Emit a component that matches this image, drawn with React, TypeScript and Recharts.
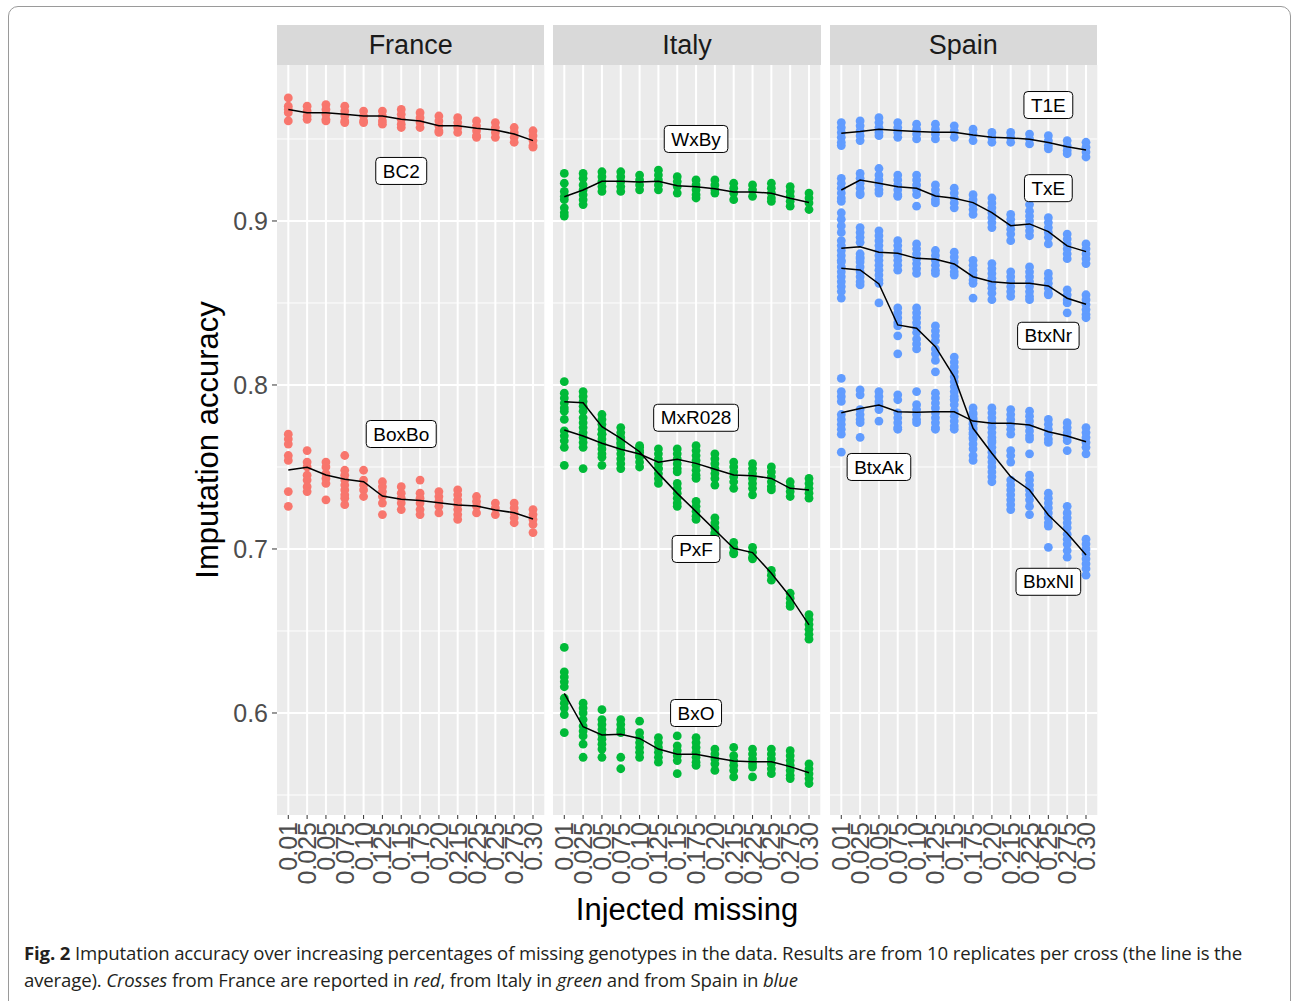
import React from 'react';
import { ComposedChart, Scatter, XAxis, YAxis, ReferenceLine, ReferenceArea } from 'recharts';

// x categories: proportion of injected missing genotypes
const missingLabels = ['0.01', '0.025', '0.05', '0.075', '0.10', '0.125', '0.15', '0.175', '0.20', '0.215', '0.225', '0.25', '0.275', '0.30'];
const yTicks = [0.6, 0.7, 0.8, 0.9];
const yMinor = [0.55, 0.65, 0.75, 0.85, 0.95];
const yDomain: [number, number] = [0.5378, 0.9951];
const xDomain: [number, number] = [-0.6, 13.6];

// ---- France ----
const bc2Reps = [
  [0.975, 0.970, 0.968, 0.966, 0.961],
  [0.970, 0.967, 0.964, 0.962],
  [0.971, 0.968, 0.965, 0.962, 0.961],
  [0.970, 0.967, 0.964, 0.961, 0.960],
  [0.967, 0.964, 0.961, 0.960],
  [0.967, 0.964, 0.961, 0.959],
  [0.968, 0.965, 0.962, 0.959, 0.957],
  [0.966, 0.963, 0.960, 0.957],
  [0.964, 0.961, 0.958, 0.955, 0.954],
  [0.963, 0.960, 0.957, 0.954],
  [0.961, 0.958, 0.955, 0.952, 0.951],
  [0.960, 0.957, 0.954, 0.951],
  [0.957, 0.954, 0.951, 0.948],
  [0.955, 0.952, 0.949, 0.946, 0.945],
];
const bc2Mean = [0.968, 0.966, 0.966, 0.965, 0.964, 0.964, 0.962, 0.961, 0.958, 0.958, 0.9565, 0.9555, 0.953, 0.949];

const boxBoReps = [
  [0.770, 0.767, 0.764, 0.757, 0.754, 0.735, 0.726],
  [0.760, 0.753, 0.750, 0.745, 0.742, 0.738, 0.735],
  [0.753, 0.750, 0.746, 0.743, 0.740, 0.730],
  [0.757, 0.748, 0.745, 0.742, 0.739, 0.736, 0.733, 0.731, 0.727],
  [0.748, 0.742, 0.739, 0.736, 0.732],
  [0.741, 0.738, 0.735, 0.732, 0.728, 0.721],
  [0.738, 0.734, 0.731, 0.728, 0.724],
  [0.742, 0.734, 0.731, 0.728, 0.724, 0.721],
  [0.735, 0.732, 0.729, 0.726, 0.722],
  [0.736, 0.733, 0.730, 0.727, 0.724, 0.721, 0.718],
  [0.732, 0.729, 0.726, 0.722],
  [0.728, 0.725, 0.721],
  [0.728, 0.725, 0.722, 0.719, 0.716],
  [0.724, 0.721, 0.718, 0.715, 0.710],
];
const boxBoMean = [0.7482, 0.7498, 0.7451, 0.7425, 0.741, 0.7323, 0.7303, 0.7295, 0.7282, 0.7268, 0.7262, 0.7238, 0.7221, 0.7183];

// ---- Italy ----
const wxByReps = [
  [0.929, 0.923, 0.918, 0.915, 0.913, 0.908, 0.905, 0.903],
  [0.929, 0.926, 0.922, 0.919, 0.916, 0.913, 0.910],
  [0.930, 0.927, 0.924, 0.921, 0.918],
  [0.930, 0.927, 0.924, 0.921, 0.918],
  [0.928, 0.925, 0.922, 0.919],
  [0.931, 0.928, 0.925, 0.922, 0.919],
  [0.927, 0.924, 0.921, 0.917],
  [0.925, 0.922, 0.919, 0.916, 0.914],
  [0.925, 0.922, 0.919, 0.917],
  [0.923, 0.920, 0.917, 0.913],
  [0.922, 0.919, 0.915],
  [0.923, 0.920, 0.917, 0.914, 0.912],
  [0.921, 0.918, 0.915, 0.912, 0.909],
  [0.917, 0.914, 0.911, 0.907],
];
const wxByMean = [0.9148, 0.9189, 0.9242, 0.9242, 0.9238, 0.9242, 0.9215, 0.9209, 0.9197, 0.9177, 0.9177, 0.9169, 0.9138, 0.9112];

const mxR028Reps = [
  [0.779, 0.772, 0.769, 0.766, 0.762, 0.751],
  [0.784, 0.780, 0.777, 0.774, 0.771, 0.768, 0.765, 0.762, 0.749],
  [0.770, 0.767, 0.764, 0.761, 0.758, 0.756, 0.751],
  [0.767, 0.764, 0.761, 0.758, 0.755, 0.752, 0.749],
  [0.762, 0.759, 0.756, 0.753, 0.750],
  [0.761, 0.758, 0.755, 0.752, 0.749],
  [0.761, 0.758, 0.755, 0.752, 0.749, 0.747],
  [0.763, 0.760, 0.757, 0.754, 0.751, 0.748, 0.745, 0.743],
  [0.758, 0.755, 0.752, 0.749, 0.746, 0.743, 0.739],
  [0.753, 0.750, 0.747, 0.744, 0.741, 0.737],
  [0.752, 0.749, 0.746, 0.743, 0.740, 0.737, 0.733],
  [0.750, 0.747, 0.744, 0.741, 0.738, 0.736],
  [0.741, 0.738, 0.735, 0.732],
  [0.743, 0.740, 0.737, 0.734, 0.731],
];
const mxR028Mean = [0.7726, 0.7689, 0.7645, 0.7608, 0.7579, 0.7529, 0.7547, 0.7522, 0.7486, 0.7451, 0.7447, 0.743, 0.737, 0.736];

const pxFReps = [
  [0.802, 0.795, 0.792, 0.789, 0.786, 0.784],
  [0.796, 0.793, 0.790, 0.787],
  [0.782, 0.779, 0.776, 0.773, 0.770],
  [0.774, 0.771, 0.768, 0.765, 0.762],
  [0.763, 0.760, 0.757],
  [0.749, 0.746, 0.743, 0.740],
  [0.740, 0.737, 0.734, 0.731, 0.728, 0.726],
  [0.729, 0.726, 0.723, 0.720, 0.718],
  [0.719, 0.716, 0.713, 0.710, 0.709],
  [0.704, 0.701, 0.698, 0.697],
  [0.701, 0.698, 0.695, 0.694],
  [0.687, 0.684, 0.681],
  [0.673, 0.670, 0.667, 0.665],
  [0.660, 0.657, 0.654, 0.651, 0.648, 0.645],
];
const pxFMean = [0.7898, 0.7892, 0.7746, 0.7675, 0.7593, 0.7461, 0.7339, 0.7228, 0.7116, 0.7004, 0.6978, 0.6852, 0.6709, 0.6537];

const bxOReps = [
  [0.640, 0.625, 0.622, 0.619, 0.616, 0.609, 0.606, 0.603, 0.599, 0.588],
  [0.606, 0.603, 0.600, 0.596, 0.592, 0.589, 0.586, 0.581, 0.573],
  [0.602, 0.596, 0.593, 0.590, 0.587, 0.584, 0.581, 0.578, 0.573],
  [0.596, 0.593, 0.590, 0.588, 0.573, 0.566],
  [0.595, 0.588, 0.585, 0.582, 0.579, 0.576, 0.573],
  [0.585, 0.582, 0.579, 0.576, 0.573, 0.570],
  [0.586, 0.580, 0.577, 0.574, 0.571, 0.563],
  [0.585, 0.582, 0.579, 0.576, 0.573, 0.570, 0.568],
  [0.578, 0.575, 0.572, 0.569, 0.565],
  [0.579, 0.574, 0.571, 0.568, 0.565, 0.561],
  [0.578, 0.575, 0.572, 0.569, 0.567, 0.561],
  [0.578, 0.575, 0.572, 0.569, 0.566, 0.563],
  [0.577, 0.574, 0.571, 0.568, 0.565, 0.562, 0.560],
  [0.569, 0.566, 0.563, 0.560, 0.557],
];
const bxOMean = [0.612, 0.5916, 0.5866, 0.587, 0.5845, 0.578, 0.5748, 0.5748, 0.5727, 0.5707, 0.5703, 0.5703, 0.5673, 0.5636];

// ---- Spain ----
const t1EReps = [
  [0.960, 0.957, 0.954, 0.951, 0.948, 0.946],
  [0.961, 0.958, 0.955, 0.952, 0.949],
  [0.963, 0.960, 0.957, 0.954, 0.952],
  [0.960, 0.957, 0.954, 0.951],
  [0.959, 0.956, 0.953, 0.950],
  [0.959, 0.956, 0.953, 0.950],
  [0.958, 0.955, 0.951],
  [0.956, 0.953, 0.949],
  [0.954, 0.951, 0.948],
  [0.954, 0.951, 0.948],
  [0.953, 0.950, 0.947],
  [0.952, 0.949, 0.946, 0.944],
  [0.949, 0.946, 0.943, 0.941],
  [0.948, 0.945, 0.942, 0.939],
];
const t1EMean = [0.9535, 0.9545, 0.9559, 0.9551, 0.9545, 0.9541, 0.9541, 0.9524, 0.951, 0.9506, 0.9498, 0.9478, 0.9453, 0.9433];

const txEReps = [
  [0.926, 0.923, 0.920, 0.917, 0.914, 0.912, 0.905, 0.901, 0.897, 0.893],
  [0.929, 0.926, 0.923, 0.920, 0.917, 0.916],
  [0.932, 0.928, 0.925, 0.922, 0.919, 0.917],
  [0.928, 0.925, 0.922, 0.919, 0.916, 0.915],
  [0.928, 0.925, 0.922, 0.919, 0.916, 0.909],
  [0.922, 0.919, 0.916, 0.913, 0.911],
  [0.920, 0.917, 0.914, 0.911, 0.908],
  [0.916, 0.913, 0.910, 0.907, 0.904],
  [0.914, 0.911, 0.908, 0.905, 0.902, 0.899, 0.896],
  [0.904, 0.901, 0.898, 0.895, 0.892, 0.888],
  [0.910, 0.906, 0.903, 0.900, 0.897, 0.894, 0.891],
  [0.902, 0.899, 0.896, 0.893, 0.890, 0.886],
  [0.892, 0.889, 0.886, 0.883, 0.880, 0.877],
  [0.886, 0.883, 0.880, 0.877, 0.874],
];
const txEMean = [0.9189, 0.925, 0.923, 0.9209, 0.9199, 0.9152, 0.9138, 0.9112, 0.9051, 0.8971, 0.8982, 0.8935, 0.8848, 0.8813];

const btxNrReps = [
  [0.888, 0.885, 0.882, 0.879, 0.876],
  [0.896, 0.893, 0.890, 0.887, 0.880, 0.877],
  [0.894, 0.891, 0.888, 0.885, 0.882, 0.879, 0.876, 0.873],
  [0.888, 0.885, 0.882, 0.879, 0.876, 0.873, 0.870],
  [0.886, 0.883, 0.880, 0.877, 0.874, 0.871, 0.868],
  [0.882, 0.879, 0.876, 0.873, 0.870, 0.868],
  [0.881, 0.878, 0.875, 0.872, 0.869, 0.867],
  [0.876, 0.873, 0.870, 0.867, 0.864, 0.862, 0.853],
  [0.874, 0.871, 0.868, 0.865, 0.862, 0.859, 0.856, 0.852],
  [0.869, 0.866, 0.863, 0.860, 0.857, 0.854],
  [0.872, 0.869, 0.866, 0.863, 0.860, 0.857, 0.854, 0.852],
  [0.868, 0.865, 0.862, 0.859, 0.856, 0.855],
  [0.858, 0.855, 0.852, 0.850, 0.844],
  [0.855, 0.852, 0.849, 0.846, 0.843, 0.841],
];
const btxNrMean = [0.8833, 0.8843, 0.8809, 0.8803, 0.8772, 0.8766, 0.8738, 0.866, 0.863, 0.862, 0.862, 0.8604, 0.8529, 0.8492];

const bbxNlReps = [
  [0.875, 0.872, 0.869, 0.866, 0.863, 0.860, 0.857, 0.853],
  [0.878, 0.875, 0.872, 0.869, 0.866, 0.863, 0.861],
  [0.870, 0.867, 0.864, 0.862, 0.850],
  [0.847, 0.844, 0.841, 0.838, 0.836, 0.830, 0.819],
  [0.847, 0.844, 0.841, 0.838, 0.835, 0.832, 0.828, 0.825, 0.822],
  [0.836, 0.833, 0.830, 0.827, 0.822, 0.819, 0.815, 0.808],
  [0.817, 0.814, 0.811, 0.808, 0.805, 0.802, 0.799, 0.796, 0.793, 0.791],
  [0.782, 0.779, 0.776, 0.773, 0.770, 0.767, 0.764, 0.761, 0.757, 0.754],
  [0.765, 0.762, 0.759, 0.756, 0.753, 0.750, 0.747, 0.744, 0.741],
  [0.760, 0.757, 0.753, 0.742, 0.739, 0.736, 0.733, 0.730, 0.727, 0.724],
  [0.758, 0.745, 0.742, 0.739, 0.736, 0.733, 0.730, 0.726, 0.721],
  [0.734, 0.731, 0.728, 0.725, 0.722, 0.719, 0.716, 0.714, 0.701],
  [0.726, 0.722, 0.719, 0.716, 0.713, 0.709, 0.706, 0.703, 0.699, 0.695],
  [0.706, 0.703, 0.700, 0.697, 0.694, 0.691, 0.688, 0.684],
];
const bbxNlMean = [0.8712, 0.8701, 0.8616, 0.8366, 0.8346, 0.8234, 0.805, 0.7736, 0.7584, 0.7441, 0.736, 0.7207, 0.7096, 0.6963];

const btxAkReps = [
  [0.804, 0.796, 0.793, 0.790, 0.782, 0.779, 0.776, 0.773, 0.770, 0.759],
  [0.797, 0.794, 0.785, 0.782, 0.779, 0.777, 0.768],
  [0.796, 0.793, 0.790, 0.788, 0.785, 0.778],
  [0.794, 0.791, 0.783, 0.780, 0.777, 0.774, 0.773],
  [0.796, 0.788, 0.785, 0.782, 0.779, 0.777],
  [0.795, 0.792, 0.789, 0.786, 0.783, 0.780, 0.777, 0.774, 0.773],
  [0.791, 0.788, 0.784, 0.781, 0.778, 0.775, 0.773],
  [0.786, 0.783, 0.780, 0.777, 0.774, 0.771, 0.768],
  [0.786, 0.783, 0.780, 0.777, 0.774, 0.771, 0.768, 0.766],
  [0.785, 0.782, 0.779, 0.776, 0.773, 0.770],
  [0.784, 0.781, 0.778, 0.775, 0.772, 0.769, 0.767],
  [0.779, 0.776, 0.773, 0.770, 0.767, 0.765],
  [0.777, 0.774, 0.771, 0.768, 0.766, 0.760],
  [0.774, 0.771, 0.768, 0.765, 0.762, 0.758],
];
const btxAkMean = [0.7831, 0.7857, 0.7878, 0.7837, 0.7833, 0.7837, 0.7837, 0.778, 0.7766, 0.7766, 0.7756, 0.7715, 0.7689, 0.7654];

// cross name tags, placed in data units (category index, accuracy)
const franceTags = [
  { text: 'BC2', x: 6, y: 0.9305 },
  { text: 'BoxBo', x: 6, y: 0.7701 },
];
const italyTags = [
  { text: 'WxBy', x: 7, y: 0.95 },
  { text: 'MxR028', x: 7, y: 0.78 },
  { text: 'PxF', x: 7, y: 0.7 },
  { text: 'BxO', x: 7, y: 0.6 },
];
const spainTags = [
  { text: 'T1E', x: 11, y: 0.9707 },
  { text: 'TxE', x: 11, y: 0.92 },
  { text: 'BtxNr', x: 11, y: 0.83 },
  { text: 'BtxAk', x: 2, y: 0.75 },
  { text: 'BbxNl', x: 11, y: 0.68 },
];

const SANS = '"Liberation Sans", Arial, Helvetica, sans-serif';
const PANEL_W = 267.3;
const PANEL_H = 750;
const X_AXIS_H = 90;
const Y_AXIS_W = 60;
const SIDE_PAD = 14; // room for the outer rotated tick labels

type Cross = { reps: number[][]; mean: number[] };
type Tag = { text: string; x: number; y: number };

let measureCtx: CanvasRenderingContext2D | null = null;
function textWidth(s: string, font: string) {
  if (!measureCtx) measureCtx = document.createElement('canvas').getContext('2d');
  if (!measureCtx) return s.length * 11;
  measureCtx.font = font;
  return measureCtx.measureText(s).width;
}

const TagBox = (props: any) => {
  const { cx, cy, payload } = props;
  const w = textWidth(payload.text, `19px ${SANS}`) + 14;
  const h = 27;
  return (
    <g>
      <rect x={cx - w / 2} y={cy - h / 2} width={w} height={h} rx={4} ry={4} fill="#fff" stroke="#000" strokeWidth={1} />
      <text x={cx} y={cy} dy="0.35em" textAnchor="middle" fontSize={19} fontFamily={SANS} fill="#000">
        {payload.text}
      </text>
    </g>
  );
};

const MissingTick = (props: any) => {
  const { x, y, payload } = props;
  return (
    <text
      transform={`translate(${x},${y}) rotate(-90)`}
      textAnchor="end"
      dy="0.36em"
      fontSize={25}
      fontFamily={SANS}
      fill="#4D4D4D"
    >
      {missingLabels[payload.value]}
    </text>
  );
};

function Facet({ title, color, crosses, tags, left, showY }: {
  title: string; color: string; crosses: Cross[]; tags: Tag[]; left: number; showY?: boolean;
}) {
  const yW = showY ? Y_AXIS_W : 0;
  const padL = showY ? 0 : SIDE_PAD;
  const points = crosses.flatMap((c) => c.reps.flatMap((vals, i) => vals.map((v) => ({ x: i, y: v }))));
  const cats = missingLabels.map((_, i) => i);

  return (
    <div style={{ position: 'absolute', left: left - yW - padL, top: 25 }}>
      <div
        style={{
          marginLeft: yW + padL, width: PANEL_W, height: 40, lineHeight: '41px', background: '#D9D9D9',
          textAlign: 'center', fontFamily: SANS, fontSize: 27, color: '#1A1A1A',
        }}
      >
        {title}
      </div>
      <ComposedChart
        width={yW + padL + PANEL_W + SIDE_PAD}
        height={PANEL_H + X_AXIS_H}
        margin={{ top: 0, right: SIDE_PAD, bottom: 0, left: padL }}
      >
        <XAxis
          type="number"
          dataKey="x"
          domain={xDomain}
          allowDataOverflow
          ticks={cats}
          interval={0}
          height={X_AXIS_H}
          axisLine={false}
          tickSize={4}
          tickMargin={3}
          tickLine={{ stroke: '#333333', strokeWidth: 1 }}
          tick={<MissingTick />}
        />
        <YAxis
          type="number"
          dataKey="y"
          domain={yDomain}
          allowDataOverflow
          ticks={yTicks}
          hide={!showY}
          width={Y_AXIS_W}
          axisLine={false}
          tickSize={5}
          tickMargin={4}
          tickLine={{ stroke: '#333333', strokeWidth: 1 }}
          tick={{ fontSize: 25, fill: '#4D4D4D', fontFamily: SANS }}
          tickFormatter={(v: number) => v.toFixed(1)}
        />
        <ReferenceArea x1={xDomain[0]} x2={xDomain[1]} y1={yDomain[0]} y2={yDomain[1]} fill="#EBEBEB" fillOpacity={1} stroke="none" />
        {yMinor.map((v) => (
          <ReferenceLine key={`m${v}`} y={v} stroke="#FFFFFF" strokeWidth={1} />
        ))}
        {yTicks.map((v) => (
          <ReferenceLine key={`t${v}`} y={v} stroke="#FFFFFF" strokeWidth={2} />
        ))}
        {cats.map((i) => (
          <ReferenceLine key={`x${i}`} x={i} stroke="#FFFFFF" strokeWidth={2} />
        ))}
        <Scatter
          data={points}
          isAnimationActive={false}
          shape={(p: any) => <circle cx={p.cx} cy={p.cy} r={4.4} fill={color} />}
        />
        {crosses.map((c, k) => (
          <Scatter
            key={`mean${k}`}
            data={c.mean.map((v, i) => ({ x: i, y: v }))}
            isAnimationActive={false}
            line={{ stroke: '#000000', strokeWidth: 1.5 }}
            shape={() => <g />}
          />
        ))}
        <Scatter data={tags} isAnimationActive={false} shape={<TagBox />} />
      </ComposedChart>
    </div>
  );
}

export default function App() {
  return (
    <div style={{ position: 'absolute', left: 0, top: 0, width: 1294, height: 1001, background: '#fff', overflow: 'hidden' }}>
      <div
        style={{
          position: 'absolute', left: 8, top: 6, width: 1283, height: 1040,
          border: '1px solid #9A9A9A', borderRadius: 10, boxSizing: 'border-box',
        }}
      />
      <Facet
        title="France"
        color="#F8766D"
        left={277}
        showY
        crosses={[{ reps: bc2Reps, mean: bc2Mean }, { reps: boxBoReps, mean: boxBoMean }]}
        tags={franceTags}
      />
      <Facet
        title="Italy"
        color="#00BA38"
        left={553.3}
        crosses={[
          { reps: wxByReps, mean: wxByMean },
          { reps: mxR028Reps, mean: mxR028Mean },
          { reps: pxFReps, mean: pxFMean },
          { reps: bxOReps, mean: bxOMean },
        ]}
        tags={italyTags}
      />
      <Facet
        title="Spain"
        color="#619CFF"
        left={829.7}
        crosses={[
          { reps: t1EReps, mean: t1EMean },
          { reps: txEReps, mean: txEMean },
          { reps: btxNrReps, mean: btxNrMean },
          { reps: bbxNlReps, mean: bbxNlMean },
          { reps: btxAkReps, mean: btxAkMean },
        ]}
        tags={spainTags}
      />
      <div
        style={{
          position: 'absolute', left: 208, top: 440, transform: 'translate(-50%, -50%) rotate(-90deg)',
          fontFamily: SANS, fontSize: 31, color: '#000', whiteSpace: 'nowrap',
        }}
      >
        Imputation accuracy
      </div>
      <div
        style={{
          position: 'absolute', left: 477, width: 420, top: 892, lineHeight: '36px', textAlign: 'center',
          fontFamily: SANS, fontSize: 31, color: '#000', whiteSpace: 'nowrap',
        }}
      >
        Injected missing
      </div>
      <div
        style={{
          position: 'absolute', left: 24, top: 939, fontFamily: '"Open Sans", "Noto Sans", sans-serif',
          fontSize: 18.6, lineHeight: '27px', color: '#231F20', whiteSpace: 'nowrap', letterSpacing: -0.15,
        }}
      >
        <div>
          <b>Fig. 2</b> Imputation accuracy over increasing percentages of missing genotypes in the data. Results are from 10 replicates per cross (the line is the
        </div>
        <div>
          average). <i>Crosses</i> from France are reported in <i>red</i>, from Italy in <i>green</i> and from Spain in <i>blue</i>
        </div>
      </div>
    </div>
  );
}
